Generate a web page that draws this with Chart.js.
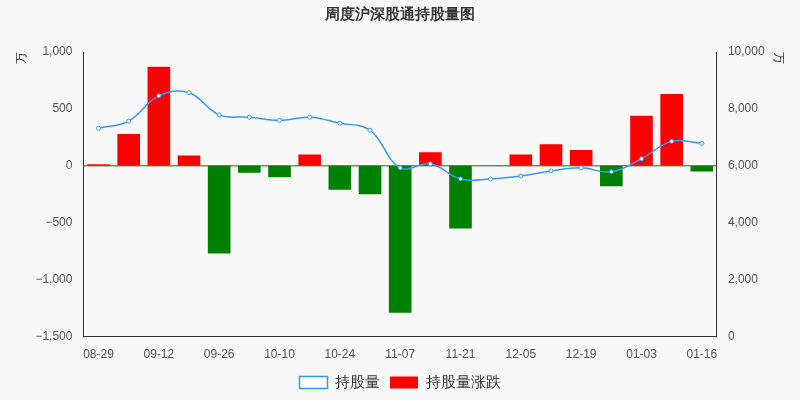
<!DOCTYPE html>
<html><head><meta charset="utf-8">
<script src="https://cdn.jsdelivr.net/npm/chart.js@4/dist/chart.umd.min.js"></script>
<style>html,body{margin:0;background:#f8f8f8}#w{width:800px;height:400px}</style></head>
<body><div id="w"><canvas id="c"></canvas></div>
<script>
const categories=['08-29','09-05','09-12','09-19','09-26','10-03','10-10','10-17','10-24','10-31','11-07','11-14','11-21','11-28','12-05','12-12','12-19','12-26','01-03','01-09','01-16'];
const holding=[7320,7570,8460,8570,7790,7710,7600,7710,7500,7250,5930,6070,5540,5540,5640,5820,5930,5790,6250,6860,6790];
const change=[15,280,870,90,-770,-60,-100,100,-210,-250,-1290,120,-550,2,100,190,140,-180,440,630,-50];
const zeroLine={id:'z',afterDatasetsDraw(ch){}};
new Chart(document.getElementById('c'),{
data:{labels:categories,datasets:[
{type:'line',label:'持股量',data:holding,yAxisID:'y1',borderColor:'#3399ff',backgroundColor:'#fff',borderWidth:1.5,pointRadius:2,pointBorderWidth:1,tension:0.4,order:0},
{type:'bar',label:'持股量涨跌',data:change,yAxisID:'y',backgroundColor:change.map(v=>v>=0?'#ff0000':'#008000'),categoryPercentage:0.75,barPercentage:1,order:1}
]},
options:{responsive:true,maintainAspectRatio:false,animation:false,
layout:{padding:{left:10,right:10,top:0,bottom:0}},
plugins:{title:{display:true,text:'周度沪深股通持股量图',color:'#333',font:{size:15,weight:'bold'},padding:{top:6,bottom:28}},
legend:{position:'bottom',labels:{usePointStyle:false,boxWidth:28,boxHeight:12,font:{size:15},color:'#333',
generateLabels(ch){return [{text:'持股量',fillStyle:'#fff',strokeStyle:'#3399ff',lineWidth:1.5,pointStyle:'circle',datasetIndex:0,fontColor:'#333'},{text:'持股量涨跌',fillStyle:'#ff0000',strokeStyle:'#ff0000',lineWidth:0,datasetIndex:1,fontColor:'#333'}];}}}},
scales:{
x:{grid:{display:false},border:{color:'#333'},ticks:{color:'#555',font:{size:12},maxRotation:0,autoSkip:false,callback(v,i){return i%2==0||i==20?(i==19?'':categories[i]):'';}}},
y:{position:'left',min:-1500,max:1000,ticks:{stepSize:500,color:'#555',font:{size:12},callback:v=>v.toLocaleString('en-US').replace('-','−')},grid:{display:false},border:{color:'#333'},title:{display:true,text:'万',align:'end',color:'#333',font:{size:12}}},
y1:{position:'right',min:0,max:10000,ticks:{stepSize:2000,color:'#555',font:{size:12},callback:v=>v.toLocaleString('en-US')},grid:{display:false},border:{color:'#333'},title:{display:true,text:'万',align:'end',color:'#333',font:{size:12}}}
}},
plugins:[{id:'zl',beforeDatasetsDraw(ch){const y=ch.scales.y.getPixelForValue(0),a=ch.chartArea,c=ch.ctx;c.save();c.strokeStyle='#008000';c.lineWidth=1;c.beginPath();c.moveTo(a.left,y);c.lineTo(a.right,y);c.stroke();c.restore();}}]
});
</script></body></html>
